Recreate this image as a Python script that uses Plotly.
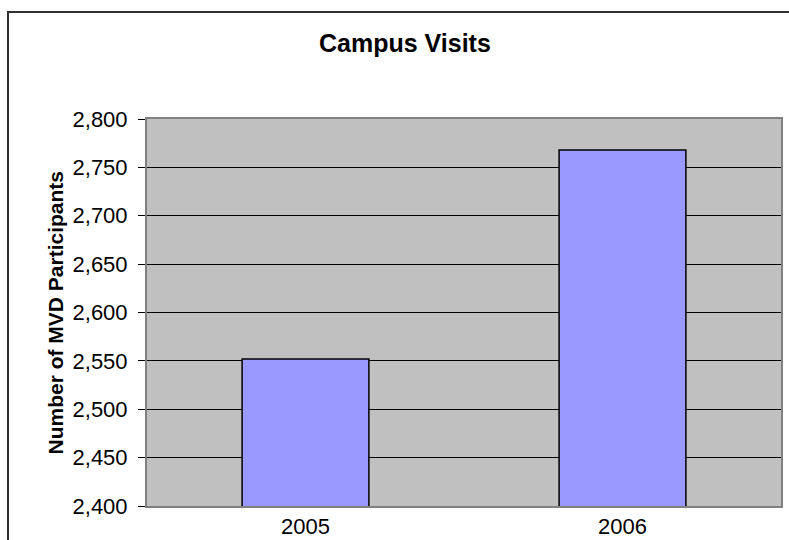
"""Campus Visits bar chart."""
import plotly.graph_objects as go

# Data
years = ["2005", "2006"]
participants = [2552, 2768]
y_ticks = [2400, 2450, 2500, 2550, 2600, 2650, 2700, 2750, 2800]
y_tick_labels = [f"{v:,}" for v in y_ticks]

FONT = "Liberation Sans, Arial, sans-serif"

# Plot area edges in pixels (figure is 789 x 540)
L, R, T, B = 147, 781, 119, 506
W, H = 789, 540
PW, PH = R - L, B - T


def px_x(x):
    """Pixel x -> paper x."""
    return (x - L) / PW


def px_y(y):
    """Pixel y (from top) -> paper y."""
    return (B - y) / PH


fig = go.Figure(
    go.Bar(
        x=years,
        y=participants,
        marker=dict(color="#9999FF", line=dict(color="black", width=1.5)),
        width=0.4,
    )
)

fig.update_layout(
    width=W,
    height=H,
    margin=dict(l=L, r=W - R, t=T, b=H - B, pad=0, autoexpand=False),
    paper_bgcolor="white",
    plot_bgcolor="#C0C0C0",
    showlegend=False,
    font=dict(family=FONT, size=22, color="black"),
)

fig.update_yaxes(
    range=[2400, 2800],
    tickvals=y_ticks,
    ticktext=y_tick_labels,
    showgrid=True,
    gridcolor="black",
    gridwidth=1,
    ticks="outside",
    ticklen=7,
    tickcolor="black",
    ticklabelstandoff=6,
    showline=True,
    linecolor="#808080",
    linewidth=2,
    mirror=True,
    zeroline=False,
    automargin=False,
    tickfont=dict(size=22),
)

fig.update_xaxes(
    showline=True,
    linecolor="#808080",
    linewidth=2,
    mirror=True,
    ticks="",
    automargin=False,
    tickfont=dict(size=22),
)

# Chart title, centred on the whole chart area
fig.add_annotation(
    text="<b>Campus Visits</b>",
    xref="paper",
    yref="paper",
    x=px_x(405),
    y=px_y(43),
    xanchor="center",
    yanchor="middle",
    showarrow=False,
    font=dict(family=FONT, size=25),
)

# Y axis title
fig.add_annotation(
    text="<b>Number of MVD Participants</b>",
    xref="paper",
    yref="paper",
    x=px_x(55),
    y=0.5,
    xanchor="center",
    yanchor="middle",
    textangle=-90,
    showarrow=False,
    font=dict(family=FONT, size=21),
)

# Outer chart border
fig.add_shape(
    type="rect",
    xref="paper",
    yref="paper",
    x0=px_x(8),
    x1=px_x(W + 10),
    y0=px_y(H + 10),
    y1=px_y(12),
    line=dict(color="#303030", width=2),
    fillcolor="rgba(0,0,0,0)",
    layer="below",
)

fig.write_html(
    "out.html",
    config={"displayModeBar": False},
    post_script="document.body.style.margin='0';",
)
